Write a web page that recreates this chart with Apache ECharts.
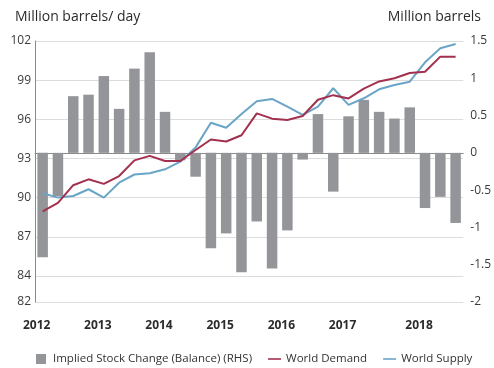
<!DOCTYPE html>
<html>
<head>
<meta charset="utf-8">
<script src="https://cdn.jsdelivr.net/npm/echarts@6/dist/echarts.min.js"></script>
<style>
  html, body { margin: 0; padding: 0; background: #fff; }
  #chart { width: 494px; height: 368px; }
</style>
</head>
<body>
<div id="chart"></div>
<script>
// Quarterly periods, 2012 Q1 - 2018 Q4
const quarters = [
  '2012 Q1','2012 Q2','2012 Q3','2012 Q4',
  '2013 Q1','2013 Q2','2013 Q3','2013 Q4',
  '2014 Q1','2014 Q2','2014 Q3','2014 Q4',
  '2015 Q1','2015 Q2','2015 Q3','2015 Q4',
  '2016 Q1','2016 Q2','2016 Q3','2016 Q4',
  '2017 Q1','2017 Q2','2017 Q3','2017 Q4',
  '2018 Q1','2018 Q2','2018 Q3','2018 Q4'
];

// Implied stock change (balance), million barrels (right-hand scale)
const balance = [
  -1.40, -0.58, 0.76, 0.78, 1.03, 0.59, 1.13, 1.35,
  0.55, -0.10, -0.32, -1.28, -1.08, -1.60, -0.92, -1.55,
  -1.04, -0.09, 0.52, -0.52, 0.49, 0.71, 0.55, 0.46,
  0.61, -0.74, -0.59, -0.94
];

// World demand, million barrels per day
const worldDemand = [
  88.95, 89.6, 90.95, 91.4, 91.05, 91.65, 92.85, 93.2,
  92.8, 92.8, 93.65, 94.45, 94.3, 94.78, 96.45, 96.05,
  95.95, 96.25, 97.5, 97.85, 97.6, 98.35, 98.9, 99.15,
  99.55, 99.65, 100.8, 100.8
];

// World supply, million barrels per day
const worldSupply = [
  90.33, 90.0, 90.12, 90.64, 90.0, 91.14, 91.77, 91.86,
  92.17, 92.75, 93.85, 95.74, 95.35, 96.4, 97.38, 97.56,
  96.97, 96.33, 96.97, 98.38, 97.1, 97.61, 98.3, 98.63,
  98.88, 100.37, 101.44, 101.77
];

// Tick labels
const leftTicks = [82, 84, 87, 90, 93, 96, 99, 102];
const yearLabelIndex = [0, 4, 8, 12, 16, 20, 25];

const FONT = 'Open Sans';
const chart = echarts.init(document.getElementById('chart'), null, { renderer: 'canvas' });

chart.setOption({
  backgroundColor: '#ffffff',
  animation: false,
  textStyle: { fontFamily: FONT },
  title: [
    {
      text: 'Million barrels/ day',
      left: 10, top: 5,
      textStyle: { fontFamily: FONT, fontSize: 14, fontWeight: 'normal', color: '#2b2b2b' }
    },
    {
      text: 'Million barrels',
      right: 8, top: 5,
      textStyle: { fontFamily: FONT, fontSize: 14, fontWeight: 'normal', color: '#2b2b2b' }
    }
  ],
  grid: { left: 35, right: 29, top: 41, bottom: 66, containLabel: false },
  legend: {
    left: 35, bottom: 3,
    padding: 0,
    itemWidth: 13, itemHeight: 10, itemGap: 16,
    textStyle: { fontFamily: FONT, fontSize: 11.5, color: '#333' },
    data: [
      { name: 'Implied Stock Change (Balance) (RHS)', icon: 'path://M1,0h10v10h-10zM0,0M13,10' },
      { name: 'World Demand', icon: 'path://M0,0M0,4.2h13v1.6h-13zM13,10' },
      { name: 'World Supply', icon: 'path://M0,0M0,4.2h13v1.6h-13zM13,10' }
    ]
  },
  xAxis: {
    type: 'category',
    data: quarters,
    boundaryGap: true,
    axisLine: { show: true, lineStyle: { color: '#8a8a8a', width: 1 } },
    axisTick: { show: false },
    splitLine: { show: false },
    axisLabel: {
      interval: (i) => yearLabelIndex.includes(i),
      formatter: (v) => v.slice(0, 4),
      margin: 18,
      padding: [0, 12, 0, 0],
      fontFamily: FONT, fontSize: 12, fontWeight: 'bold', color: '#2b2b2b'
    }
  },
  yAxis: [
    {
      type: 'value',
      min: 82, max: 102,
      position: 'left',
      axisLine: { show: true, lineStyle: { color: '#8a8a8a', width: 1 } },
      axisTick: { show: false, customValues: leftTicks },
      splitLine: { show: true, lineStyle: { color: '#dcdcdc', width: 1 } },
      axisLabel: {
        customValues: leftTicks,
        margin: 4,
        fontFamily: FONT, fontSize: 12, color: '#3a3a3a'
      }
    },
    {
      type: 'value',
      min: -2, max: 1.5, interval: 0.5,
      position: 'right',
      axisLine: { show: false },
      axisTick: { show: false },
      splitLine: { show: false },
      axisLabel: {
        margin: 7,
        fontFamily: FONT, fontSize: 12, color: '#3a3a3a'
      }
    }
  ],
  series: [
    {
      name: 'Implied Stock Change (Balance) (RHS)',
      type: 'bar',
      yAxisIndex: 1,
      data: balance,
      barWidth: 10.5,
      itemStyle: { color: '#939598' },
      z: 1
    },
    {
      name: 'World Demand',
      type: 'line',
      yAxisIndex: 0,
      data: worldDemand,
      symbol: 'none',
      lineStyle: { color: '#a3304e', width: 2 },
      itemStyle: { color: '#a3304e' },
      z: 3
    },
    {
      name: 'World Supply',
      type: 'line',
      yAxisIndex: 0,
      data: worldSupply,
      symbol: 'none',
      lineStyle: { color: '#6aa5c7', width: 2 },
      itemStyle: { color: '#6aa5c7' },
      z: 2
    }
  ]
});
</script>
</body>
</html>
